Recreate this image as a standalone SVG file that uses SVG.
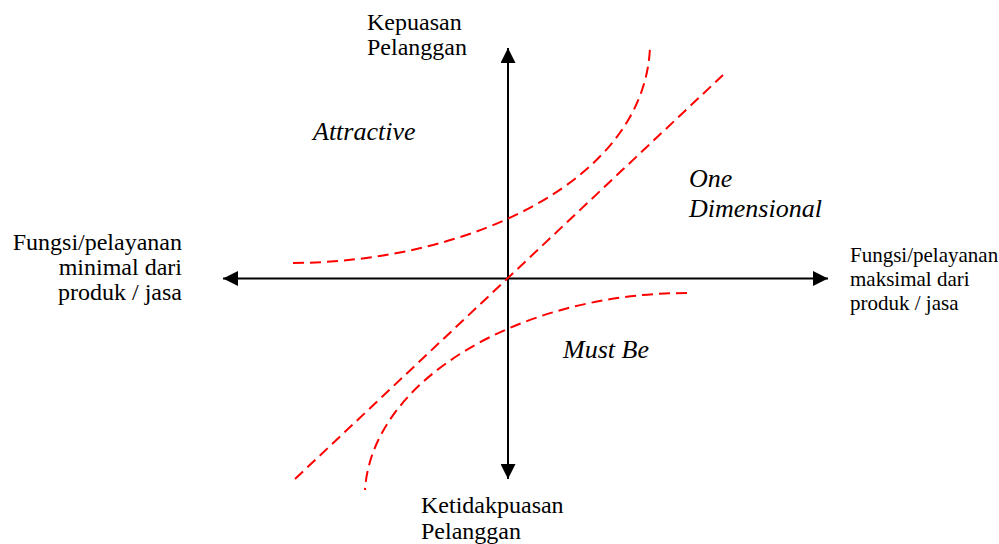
<svg xmlns="http://www.w3.org/2000/svg" width="999" height="544" viewBox="0 0 999 544">
<style>
  text { font-family: 'Liberation Serif', 'Times New Roman', serif; fill: #000; }
  .reg { font-size: 24px; }
  .sm { font-size: 21px; }
  .it { font-size: 26px; font-style: italic; }
  .axis { stroke: #000; stroke-width: 2; fill: none; }
  .curve { stroke: #ff0000; stroke-width: 2; fill: none; stroke-dasharray: 11 6; }
</style>
<defs>
  <marker id="arr" viewBox="0 0 15 15" markerWidth="15" markerHeight="15" refX="15" refY="7.5" orient="auto-start-reverse" markerUnits="userSpaceOnUse">
    <path d="M0,0 L15,7.5 L0,15 z" fill="#000"/>
  </marker>
  <clipPath id="leftClip">
    <rect x="0" y="220" width="200" height="85"/>
  </clipPath>
</defs>
<rect width="999" height="544" fill="#fff"/>
<g id="connectors">
  <line class="axis" x1="508" y1="48" x2="508" y2="479" marker-start="url(#arr)" marker-end="url(#arr)"/>
  <line class="axis" x1="223" y1="278.5" x2="828" y2="278.5" marker-start="url(#arr)" marker-end="url(#arr)"/>
  <path id="curve-attractive" class="curve" d="M293,263 C470,262 645,180 650,47"/>
  <path id="curve-one-dimensional" class="curve" d="M295,479 L723,75"/>
  <path id="curve-must-be" class="curve" d="M687,293 C520,293 372,380 365,490"/>
</g>
<g id="label-satisfaction" class="reg">
  <text x="367" y="30">Kepuasan</text>
  <text x="367" y="55">Pelanggan</text>
</g>
<g id="label-dissatisfaction" class="reg">
  <text x="421" y="513">Ketidakpuasan</text>
  <text x="421" y="539">Pelanggan</text>
</g>
<g id="label-minimal" class="reg" text-anchor="end" clip-path="url(#leftClip)">
  <text x="182" y="250">Fungsi/pelayanan</text>
  <text x="182" y="275">minimal dari</text>
  <text x="182" y="300">produk / jasa</text>
</g>
<g id="label-maximal" class="sm">
  <text x="850" y="262">Fungsi/pelayanan</text>
  <text x="850" y="286">maksimal dari</text>
  <text x="850" y="310">produk / jasa</text>
</g>
<g id="label-attractive" class="it">
  <text x="313" y="140">Attractive</text>
</g>
<g id="label-one-dimensional" class="it">
  <text x="689" y="187">One</text>
  <text x="689" y="217">Dimensional</text>
</g>
<g id="label-must-be" class="it">
  <text x="563" y="358">Must Be</text>
</g>
</svg>
